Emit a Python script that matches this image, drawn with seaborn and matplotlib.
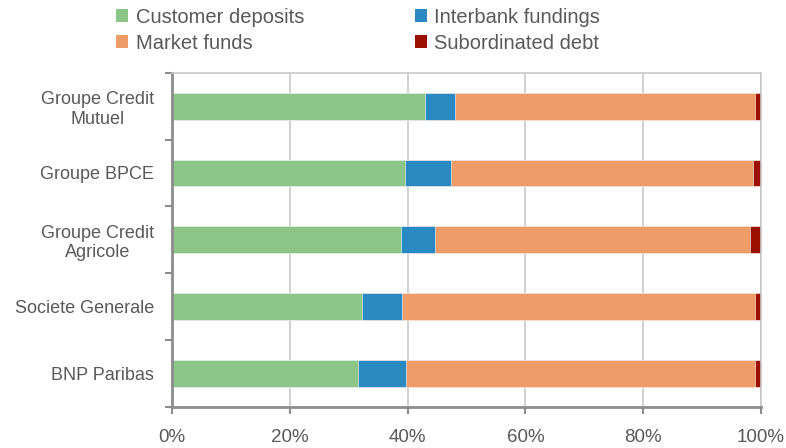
import matplotlib
matplotlib.use("Agg")
import matplotlib.pyplot as plt
import matplotlib.ticker as mticker
from matplotlib.patches import Patch
import seaborn as sns
import pandas as pd
import numpy as np

banks = ["Groupe Credit\nMutuel", "Groupe BPCE", "Groupe Credit\nAgricole",
         "Societe Generale", "BNP Paribas"]
series_names = ["Customer deposits", "Interbank fundings", "Market funds", "Subordinated debt"]
customer_deposits = [42.9, 39.5, 38.9, 32.3, 31.5]
interbank_fundings = [5.2, 7.9, 5.7, 6.8, 8.2]
market_funds = [50.9, 51.3, 53.5, 59.9, 59.3]
subordinated_debt = [1.0, 1.3, 1.9, 1.0, 1.0]
colors = ["#8BC587", "#2A89C1", "#EE9C68", "#9B1000"]
xticks = [0, 20, 40, 60, 80, 100]

sns.set_theme(style="white")
plt.rcParams['font.family'] = ['Liberation Sans', 'DejaVu Sans']
text_color = "#595959"

vals = [customer_deposits, interbank_fundings, market_funds, subordinated_debt]
cum = np.cumsum(np.array(vals), axis=0)

fig = plt.figure(figsize=(7.86, 4.48), dpi=100)
ax = fig.add_axes([0.2192, 0.0915, 0.968 - 0.2192, 0.8377 - 0.0915])

for i in range(3, -1, -1):
    d = pd.DataFrame({"bank": banks, "v": cum[i]})
    sns.barplot(data=d, x="v", y="bank", orient="h", color=colors[i],
                width=0.4, ax=ax, edgecolor="white", linewidth=0.4,
                saturation=1)

ax.set_xlim(0, 100)
ax.set_ylim(4.5, -0.5)
ax.set_xticks(xticks)
ax.xaxis.set_major_formatter(mticker.FuncFormatter(lambda v, p: f"{v:.0f}%"))
ax.set_xlabel("")
ax.set_ylabel("")
ax.grid(axis="x", color="#C8C8C8", linewidth=1.2)
ax.set_axisbelow(True)

ax.set_yticks(range(len(banks)))
ax.set_yticklabels(banks, multialignment="center")
ax.set_yticks(np.arange(-0.5, len(banks), 1.0), minor=True)
ax.tick_params(axis="y", which="major", length=0, pad=13, labelsize=13, labelcolor=text_color)
ax.tick_params(axis="y", which="minor", length=5, width=1.5, color="#8C8C8C", direction="out", left=True)
ax.tick_params(axis="x", which="major", length=5, width=1.5, color="#8C8C8C", direction="out",
               bottom=True, labelsize=13.5, labelcolor=text_color, pad=11)

for s in ["left", "bottom"]:
    ax.spines[s].set_color("#8C8C8C")
    ax.spines[s].set_linewidth(2)
for s in ["top", "right"]:
    ax.spines[s].set_color("#C8C8C8")
    ax.spines[s].set_linewidth(1.2)

order = [0, 2, 1, 3]
handles = [Patch(facecolor=colors[k], edgecolor="none") for k in order]
labels = [series_names[k] for k in order]
fig.legend(handles, labels, loc="upper left", bbox_to_anchor=(0.125, 1.023),
           ncol=2, frameon=False, fontsize=14.5, labelcolor=text_color,
           handlelength=0.6, handleheight=0.6, handletextpad=0.35,
           columnspacing=5.5, labelspacing=0.35)

fig.savefig("out.png", dpi=100)
